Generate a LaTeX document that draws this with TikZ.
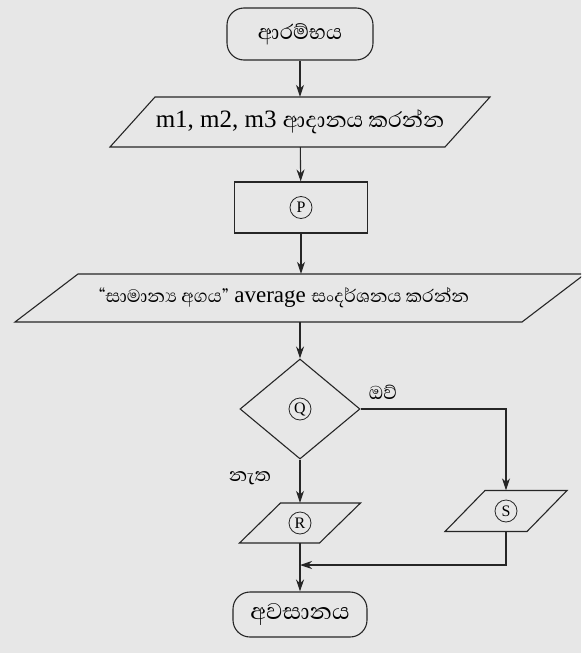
\documentclass[tikz,border=0pt]{standalone}
\usepackage{fontspec}
\setmainfont{Liberation Serif}
\newfontfamily\sinhalafont[Script=Sinhala]{Abhaya Libre}
\usetikzlibrary{shapes.geometric,arrows.meta}

\definecolor{paper}{HTML}{E7E7E7}
\definecolor{ink}{HTML}{262626}

% parallelogram drawn round a named node: #1 node, #2 half edge length, #3 half height, #4 half slant
\newcommand\slantbox[4]{%
  \draw[flow] ([shift={(-#2+#4,#3)}]#1.center) -- ([shift={(#2+#4,#3)}]#1.center)
    -- ([shift={(#2-#4,-#3)}]#1.center) -- ([shift={(-#2-#4,-#3)}]#1.center) -- cycle;}

\tikzset{
  flow/.style={draw=ink, line width=1.1pt},
  conn/.style={draw=ink, line width=1.1pt, -{Stealth[length=12pt,width=8pt]}},
  term/.style={flow, rectangle, rounded corners=17pt, inner sep=0pt},
  holder/.style={rectangle, inner sep=0pt, minimum width=2pt},
  procbox/.style={flow, rectangle, inner sep=0pt, minimum width=133pt, minimum height=51pt},
  decide/.style={flow, diamond, inner sep=0pt, minimum width=120pt, minimum height=100pt},
  circ/.style={circle, draw=ink, line width=0.8pt, minimum size=22pt, inner sep=0pt,
    font=\fontsize{16}{16}\selectfont},
  lab/.style={inner sep=0pt, font=\sinhalafont\fontsize{24}{26}\selectfont}
}

\begin{document}
\begin{tikzpicture}[x=1pt,y=1pt]
  \clip (0,0) rectangle (581,-653);
  \fill[paper] (0,0) rectangle (581,-653);

  % start
  \node[term, minimum width=146pt, minimum height=52pt,
    font=\sinhalafont\fontsize{26.5}{28}\selectfont] (start) at (300,-34) {ආරම්භය};

  % input
  \node[holder, minimum height=50pt, font=\fontsize{25}{28}\selectfont] (inp) at (300,-122)
    {m1, m2, m3 {\sinhalafont\fontsize{27.5}{28}\selectfont ආදානය කරන්න}};
  \slantbox{inp}{167.5}{25}{22.5}

  % process P
  \node[procbox] (p) at (301,-207.5) {};
  \node[circ] (pc) at (p.center) {P};

  % output (text sits a little left of the box centre)
  \node[holder, minimum height=48pt, font=\fontsize{23}{26}\selectfont] (out) at (300,-298)
    {{\sinhalafont “සාමාන්^^^^200dය අගය”} average {\sinhalafont සංදර්ශනය කරන්න}\hspace*{32pt}};
  \slantbox{out}{253.5}{24}{31.5}

  % decision Q
  \node[decide] (q) at (300,-409) {};
  \node[circ] (qc) at (q.center) {Q};

  % R and S
  \node[holder, minimum height=40pt, minimum width=80pt] (r) at (300,-523) {};
  \slantbox{r}{40}{20}{20.5}
  \node[circ] (rc) at (r.center) {R};

  \node[holder, minimum height=41pt, minimum width=80pt] (s) at (506,-511) {};
  \slantbox{s}{41}{20.5}{20}
  \node[circ] (sc) at (s.center) {S};

  % end
  \node[term, minimum width=134pt, minimum height=45pt,
    font=\sinhalafont\fontsize{29}{30}\selectfont] (stop) at (300,-614.5) {අවසානය};

  % branch labels
  \node[lab] (yes) at (383,-392) {ඔව්};
  \node[lab] (no) at (250,-478) {නැත};

  % connectors
  \coordinate (join) at (300,-565);
  \draw[conn] (start) -- (inp);
  \draw[conn] (inp) -- (p);
  \draw[conn] (p) -- (out.north -| p);
  \draw[conn] (out.south -| q) -- (q);
  \draw[conn] (q.east) -| (s.north);
  \draw[conn] (q.south) -- (r.north);
  \draw[conn] (r.south) -- (stop.north);
  \draw[conn] (s.south) |- (join);
\end{tikzpicture}
\end{document}
